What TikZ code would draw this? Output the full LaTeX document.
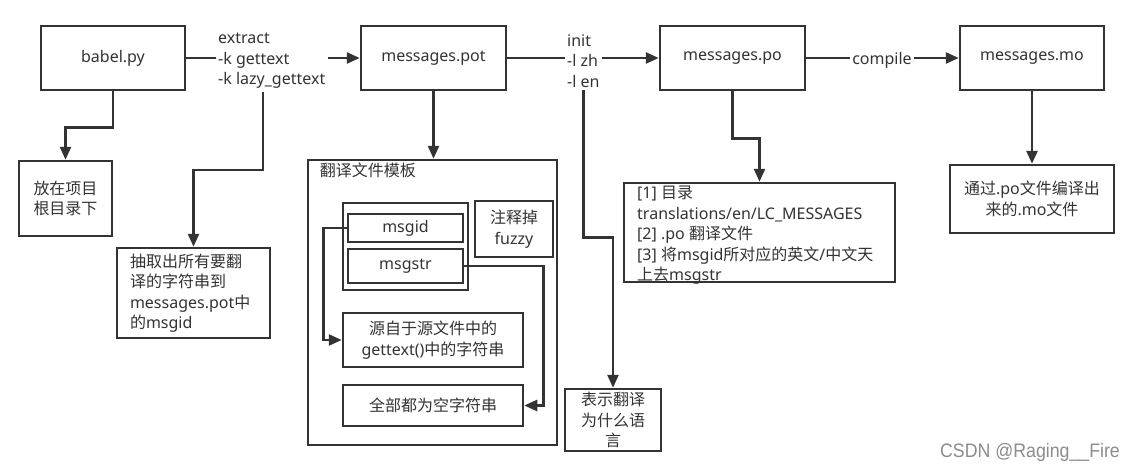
\documentclass[tikz,border=0pt]{standalone}
\usepackage{fontspec}
\setmainfont{Noto Sans}
\newfontfamily\cjk{Noto Sans CJK SC}
\newfontfamily\wmfont{Liberation Sans}
\usetikzlibrary{arrows.meta}
\newcommand\zh[1]{{\cjk #1}}
\definecolor{ln}{HTML}{333333}
\definecolor{tx}{HTML}{333333}
\definecolor{wm}{HTML}{8C8C8C}
\newcommand\fs{\fontsize{16}{20.5}\selectfont}
\tikzset{
  box/.style={draw=ln, line width=2.5pt, inner sep=0pt, align=center, text=tx, font=\fs},
  lbl/.style={inner sep=2pt, align=left, text=tx, font=\fs},
  conn/.style={draw=ln, line width=2.6pt},
  arr/.style={conn, -{Triangle[length=13pt,width=11pt]}},
}
\begin{document}
\begin{tikzpicture}[x=1pt,y=-1pt]
\fill[white] (0,0) rectangle (1136,471);
\useasboundingbox (0,0) rectangle (1136,471);

% top row
\node[box, minimum width=144, minimum height=64] (babel) at (113,58) {babel.py};
\node[box, minimum width=145, minimum height=64] (pot) at (433.5,58) {messages.pot};
\node[box, minimum width=145, minimum height=64] (po) at (732.5,58) {messages.po};
\node[box, minimum width=144, minimum height=64] (mo) at (1032,58) {messages.mo};

% labels on connectors
\node[lbl, anchor=west] (extract) at (216,61) {extract\\-k gettext\\-k lazy\_gettext};
\node[lbl, anchor=west] (init) at (565,61) {init\\-l zh\\-l en};
\node[lbl] (compile) at (882,60) {compile};

% lower boxes
\node[box, minimum width=93, minimum height=75] (root) at (65.5,198.5) {\zh{放在项目}\\\zh{根目录下}};
\node[box, minimum width=153, minimum height=90, text width=127, align=left] (extbox) at (193.5,293)
  {\zh{抽取出所有要翻}\\\zh{译的字符串到}\\messages.pot\zh{中}\\\zh{的}msgid};

\node[box, minimum width=249, minimum height=285] (template) at (432.5,302.5) {};
\node[lbl, anchor=north west] (ttitle) at ([xshift=11pt,yshift=-2pt]template.north west) {\zh{翻译文件模板}};
\node[box, minimum width=125, minimum height=87] (group) at (405.5,246.5) {};
\node[box, minimum width=115, minimum height=28] (msgid) at (405.5,228) {msgid};
\node[box, minimum width=115, minimum height=34] (msgstr) at (405.5,266) {msgstr};
\node[box, minimum width=78, minimum height=56] (fuzzy) at (514,229) {\zh{注释掉}\\fuzzy};
\node[box, minimum width=180, minimum height=54] (source) at (433,340) {\zh{源自于源文件中的}\\gettext()\zh{中的字符串}};
\node[box, minimum width=180, minimum height=41] (empty) at (433,405.5) {\zh{全部都为空字符串}};

\node[box, minimum width=96, minimum height=62] (lang) at (613,420) {\zh{表示翻译}\\\zh{为什么语}\\\zh{言}};

\node[lbl, inner sep=0pt, anchor=north west] (potext) at (637,186)
  {\relax[1] \zh{目录}\\translations/en/LC\_MESSAGES\\\relax[2] .po \zh{翻译文件}\\\relax[3] \zh{将}msgid\zh{所对应的英文}/\zh{中文天}\\\zh{上去}msgstr};
\node[box, minimum width=271, minimum height=99] (podesc) at (759.5,232.5) {};

\node[box, minimum width=164, minimum height=68] (modesc) at (1032,199) {\zh{通过}.po\zh{文件编译出}\\\zh{来的}.mo\zh{文件}};

\node[text=wm, font=\wmfont\fontsize{19.5}{22}\selectfont, inner sep=0pt] (wmark) at (1030,452) {\scalebox{0.91}[1]{CSDN @Raging\_\_Fire}};

% connectors
\draw[conn] (babel.east) -- (babel.east -| extract.west);
\draw[arr] (extract.east |- pot.west) -- (pot.west);
\coordinate (xs) at (263,92);
\draw[arr] (xs) -- ++(0,78) -| (extbox.north);
\draw[arr] (babel.south) -- ++(0,36) -| (root.north);
\draw[arr] (pot.south) -- (pot.south |- template.north);
\draw[conn] (pot.east) -- (pot.east -| init.west);
\draw[arr] (init.east |- po.west) -- (po.west);
\draw[arr] (init.south) -- ++(0,148) -| (lang.north);
\draw[arr] (po.south) -- ++(0,47) -| (podesc.north);
\draw[conn] (po.east) -- (po.east -| compile.west);
\draw[arr] (compile.east |- mo.west) -- (mo.west);
\draw[arr] (mo.south) -- (modesc.north);
\draw[arr] (msgid.west) -- ++(-23,0) |- (source.west);
\draw[arr] (msgstr.east) -- ++(79,0) |- (empty.east);
\end{tikzpicture}
\end{document}
